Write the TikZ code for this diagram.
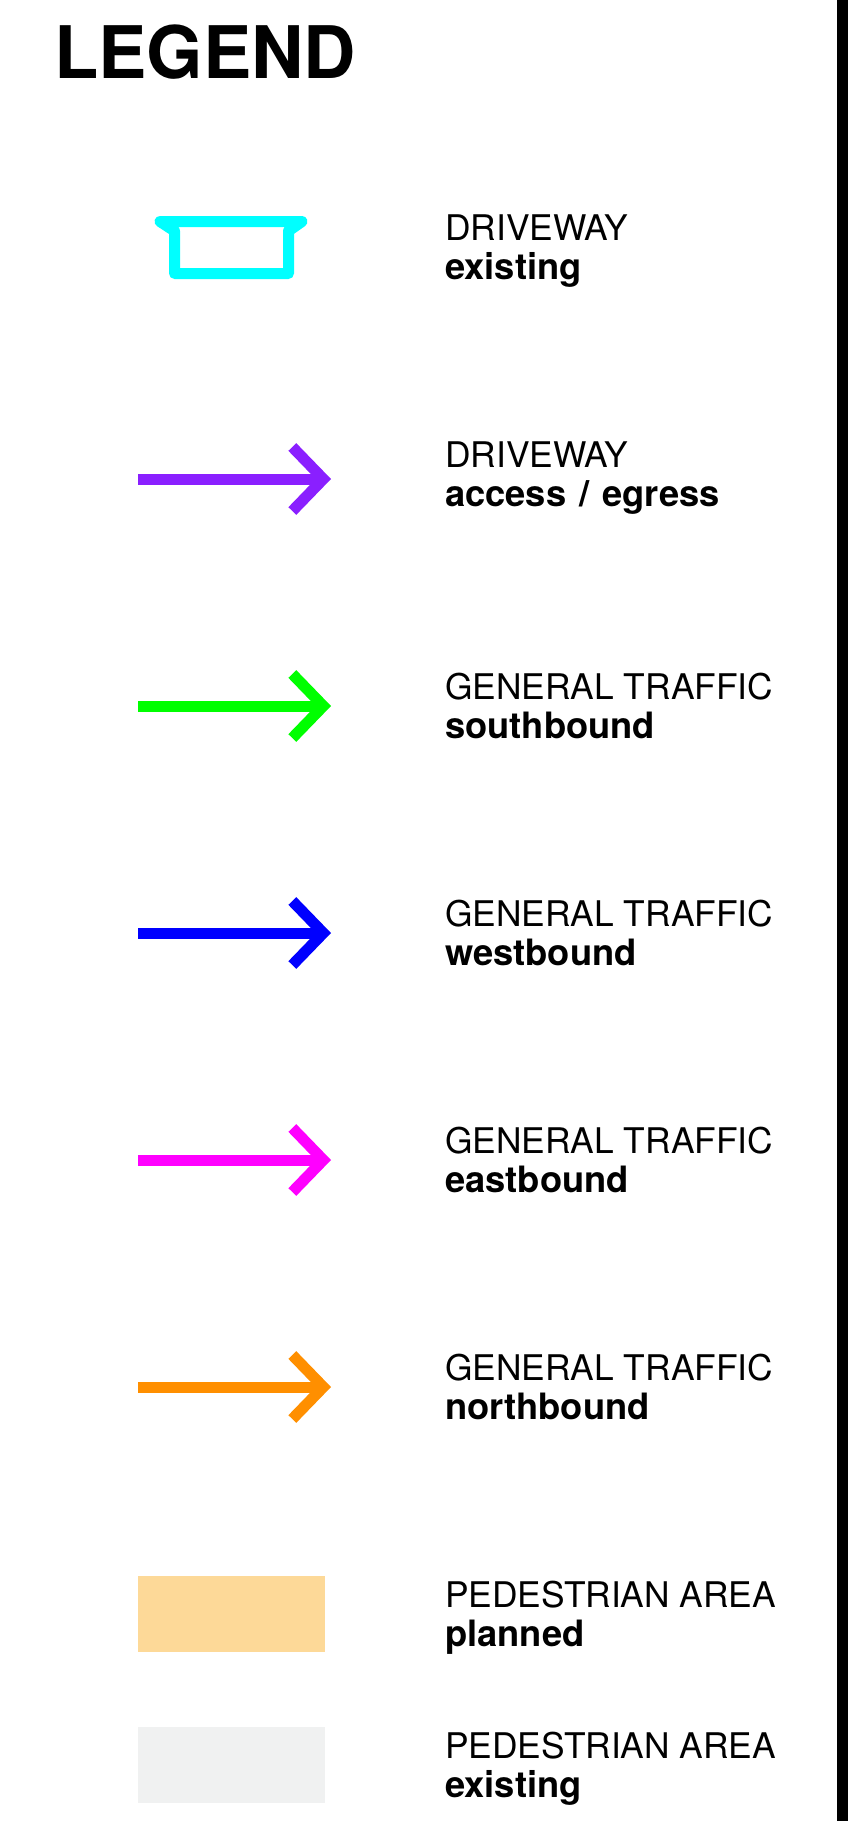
\documentclass[tikz,border=0pt]{standalone}
\usepackage{fontspec}
\setmainfont{TeX Gyre Heros}
\usetikzlibrary{arrows.meta,positioning}
\definecolor{drivecyan}{HTML}{00FFFF}
\definecolor{drivepurple}{HTML}{8A1FFF}
\definecolor{southgreen}{HTML}{00FF00}
\definecolor{westblue}{HTML}{0000FF}
\definecolor{eastmagenta}{HTML}{FF00FF}
\definecolor{northorange}{HTML}{FF8F00}
\definecolor{pedplanned}{HTML}{FDD998}
\definecolor{pedexisting}{HTML}{F0F1F1}
\newcommand{\boldlabel}[1]{{\fontsize{36.3}{38.5}\selectfont\bfseries #1}}
\tikzset{
	x=1pt,y=-1pt,
	legendtitle/.style={anchor=base west,inner sep=0pt,font=\fontsize{72.5}{75}\selectfont\bfseries},
	legendtext/.style={anchor=north west,inner sep=0pt,align=left,font=\fontsize{35.35}{38.5}\selectfont},
	legendarrow/.style={line width=11pt,-{Straight Barb[length=31pt,width=64pt]}},
	swatch/.style={minimum width=187pt,minimum height=76pt,inner sep=0pt,anchor=north west}
}
\begin{document}
\begin{tikzpicture}
	\useasboundingbox (0,0) rectangle (860,1821);
	\fill[black] (837,0) rectangle (848,1821);

	\node[legendtitle] (title) at (54,78) {LEGEND};

	% driveway symbol
	\draw[drivecyan,line width=11pt,line join=round] (160,221.5) -- (302,221.5) -- (288.5,231) -- (288.5,273.5) -- (174.5,273.5) -- (174.5,231) -- cycle;

	\node[legendtext] (lab1) at (445,215) {DRIVEWAY\\\boldlabel{existing}};

	% arrows
	\foreach \y/\ty/\col/\first/\second [count=\n from 2] in {
		479/442/drivepurple/DRIVEWAY/{access\hspace{3pt} / \hspace{3pt}egress},
		706/673/southgreen/GENERAL TRAFFIC/southbound,
		933/900/westblue/GENERAL TRAFFIC/westbound,
		1160/1127/eastmagenta/GENERAL TRAFFIC/eastbound,
		1387/1354/northorange/GENERAL TRAFFIC/northbound}{
		\coordinate (from\n) at (138,\y);
		\coordinate (to\n) at (331,\y);
		\draw[legendarrow,\col] (from\n) -- (to\n);
		\node[legendtext] (lab\n) at (445,\ty) {\first\\\boldlabel{\second}};
	}

	% pedestrian areas
	\node[swatch,fill=pedplanned] (planned) at (138,1576) {};
	\node[legendtext] (lab7) at (445,1581) {PEDESTRIAN AREA\\\boldlabel{planned}};
	\node[swatch,fill=pedexisting] (existing) at (138,1727) {};
	\node[legendtext] (lab8) at (445,1732) {PEDESTRIAN AREA\\\boldlabel{existing}};
\end{tikzpicture}
\end{document}
